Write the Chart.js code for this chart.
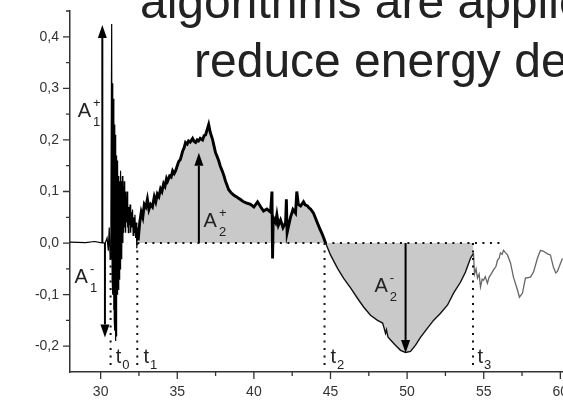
<!DOCTYPE html>
<html>
<head>
<meta charset="utf-8">
<script src="https://cdn.jsdelivr.net/npm/chart.js@4.4.0/dist/chart.umd.min.js"></script>
<style>
  html, body { margin: 0; padding: 0; background: #fff; overflow: hidden; }
  canvas { display: block; }
</style>
</head>
<body>
<canvas id="chart" width="600" height="402"></canvas>
<script>
// burst at the start (t0 .. t1)
const burstX = [28, 29, 29.6, 30.0, 30.3, 30.42, 30.5, 30.56, 30.62, 30.67, 30.72, 30.75, 30.78, 30.8, 30.83, 30.85, 30.87, 30.89, 30.91, 30.93, 30.95, 30.97, 30.99, 31.01, 31.03, 31.05, 31.07, 31.09, 31.12, 31.15, 31.18, 31.21, 31.24, 31.27, 31.3, 31.33, 31.36, 31.39, 31.42, 31.45, 31.48, 31.51, 31.54, 31.57, 31.6, 31.63, 31.66, 31.69, 31.72, 31.75, 31.78, 31.81, 31.85, 31.88, 31.92, 31.96, 32.0, 32.04, 32.08, 32.12, 32.16, 32.2, 32.24, 32.28, 32.32, 32.36, 32.4, 32.45];
const burstY = [0.002, 0.001, 0.003, 0.001, 0.0, 0.01, -0.015, 0.03, -0.03, 0.06, 0.425, -0.07, 0.31, -0.1, 0.28, -0.13, 0.25, -0.15, 0.23, -0.17, 0.21, -0.19, 0.19, -0.18, 0.17, -0.12, 0.16, -0.1, 0.15, -0.09, 0.13, -0.07, 0.12, -0.05, 0.14, -0.03, 0.12, -0.02, 0.13, 0.0, 0.11, 0.02, 0.12, 0.03, 0.1, 0.02, 0.09, 0.04, 0.1, 0.03, 0.08, 0.02, 0.07, 0.035, 0.075, 0.02, 0.06, 0.03, 0.065, 0.015, 0.05, 0.02, 0.055, 0.01, 0.04, -0.01, 0.03, 0.005];

// positive lobe A2+ (t1 .. t2)
const posX = [32.45, 32.55, 32.65, 32.75, 32.85, 32.95, 33.05, 33.15, 33.26, 33.38, 33.5, 33.6, 33.7, 33.8, 33.91, 34.0, 34.11, 34.2, 34.3, 34.37, 34.5, 34.6, 34.7, 34.8, 34.89, 35.0, 35.09, 35.2, 35.35, 35.45, 35.54, 35.65, 35.74, 35.85, 36.0, 36.1, 36.2, 36.3, 36.39, 36.5, 36.65, 36.75, 36.85, 36.95, 37.05, 37.15, 37.31, 37.4, 37.5, 37.6, 37.7, 37.8, 37.96, 38.05, 38.15, 38.25, 38.35, 38.5, 38.68, 38.85, 39.0, 39.15, 39.33, 39.5, 39.78, 40.0, 40.24, 40.45, 40.63, 40.85, 41.09, 41.18, 41.22, 41.26, 41.42, 41.5, 41.6, 41.74, 41.9, 42.07, 42.12, 42.17, 42.39, 42.55, 42.72, 42.8, 42.9, 43.05, 43.24, 43.35, 43.5, 43.6, 43.7, 43.89, 44.0, 44.16, 44.3, 44.48, 44.68];
const posY = [0.005, 0.04, 0.06, 0.05, 0.075, 0.07, 0.085, 0.065, 0.075, 0.07, 0.09, 0.08, 0.095, 0.09, 0.105, 0.1, 0.115, 0.11, 0.125, 0.12, 0.13, 0.128, 0.14, 0.135, 0.14, 0.15, 0.158, 0.162, 0.178, 0.185, 0.195, 0.192, 0.198, 0.196, 0.203, 0.197, 0.195, 0.2, 0.198, 0.203, 0.2, 0.208, 0.21, 0.22, 0.23, 0.215, 0.2, 0.188, 0.175, 0.168, 0.16, 0.15, 0.138, 0.13, 0.12, 0.112, 0.104, 0.098, 0.093, 0.09, 0.087, 0.084, 0.08, 0.078, 0.075, 0.07, 0.08, 0.07, 0.062, 0.066, 0.06, 0.1, -0.03, 0.05, 0.04, 0.055, 0.035, 0.045, 0.03, 0.04, 0.085, 0.02, 0.05, 0.065, 0.058, 0.1, 0.075, 0.072, 0.08, 0.074, 0.072, 0.068, 0.066, 0.058, 0.05, 0.038, 0.028, 0.016, 0.0];

// negative lobe A2- (t2 .. t3)
const negX = [44.68, 45.0, 45.46, 45.85, 46.31, 46.76, 47.16, 47.61, 48.07, 48.4, 48.5, 48.59, 48.65, 48.75, 48.92, 49.24, 49.57, 49.9, 50.22, 50.55, 50.87, 51.33, 51.72, 52.18, 52.64, 53.03, 53.48, 53.81, 54.14, 54.33];
const negY = [0.0, -0.023, -0.049, -0.068, -0.087, -0.107, -0.124, -0.14, -0.15, -0.155, -0.165, -0.175, -0.168, -0.182, -0.188, -0.198, -0.208, -0.212, -0.21, -0.198, -0.183, -0.165, -0.15, -0.136, -0.12, -0.097, -0.076, -0.056, -0.029, -0.02];

// tail after t3
const tailX = [54.33, 54.4, 54.5, 54.59, 54.7, 54.79, 54.9, 54.98, 55.1, 55.24, 55.35, 55.44, 55.64, 55.8, 55.9, 56.0, 56.09, 56.2, 56.29, 56.4, 56.55, 56.75, 56.94, 57.2, 57.33, 57.53, 57.72, 58.05, 58.25, 58.51, 58.7, 58.9, 59.16, 59.35, 59.55, 59.7, 59.81, 60.01, 60.14];
const tailY = [-0.02, -0.06, -0.05, -0.068, -0.06, -0.085, -0.07, -0.072, -0.065, -0.078, -0.066, -0.062, -0.052, -0.045, -0.033, -0.03, -0.019, -0.022, -0.014, -0.018, -0.023, -0.039, -0.066, -0.091, -0.105, -0.097, -0.068, -0.066, -0.056, -0.029, -0.014, -0.016, -0.021, -0.023, -0.047, -0.058, -0.055, -0.039, -0.03];

// markers t0..t3, zero reference, arrows
const markerX = [30.65, 32.39, 44.61, 54.3];
const markerBottom = -0.245;
const zeroLineX = [32.4, 56.2];
const arrowX = [30.11, 30.28, 36.41, 49.9];
const arrowTip = [0.423, -0.183, 0.175, -0.213];

const xTicks = [30, 35, 40, 45, 50, 55, 60];
const xMinor = [32.5, 37.5, 42.5, 47.5, 52.5, 57.5];
const yTicks = [-0.2, -0.1, 0.0, 0.1, 0.2, 0.3, 0.4];
const yMinor = [-0.15, -0.05, 0.05, 0.15, 0.25, 0.35, 0.45];

const FONT = '"Liberation Sans", Arial, sans-serif';
const pts = (xs, ys) => xs.map((x, i) => ({ x: x, y: ys[i] }));

const labels = [
  { x: 28.5, y: 0.245, main: 'A', sub: '1', sup: '+' },
  { x: 28.3, y: -0.078, main: 'A', sub: '1', sup: '-' },
  { x: 36.72, y: 0.031, main: 'A', sub: '2', sup: '+' },
  { x: 47.87, y: -0.095, main: 'A', sub: '2', sup: '-' },
  { x: 30.98, y: -0.233, main: 't', sub: '0' },
  { x: 32.8, y: -0.233, main: 't', sub: '1' },
  { x: 45.0, y: -0.233, main: 't', sub: '2' },
  { x: 54.59, y: -0.233, main: 't', sub: '3' }
];

const overlay = {
  id: 'overlay',
  afterDatasetsDraw(chart) {
    const { ctx, chartArea, scales: { x, y } } = chart;
    ctx.save();
    // arrows
    ctx.strokeStyle = '#000';
    ctx.fillStyle = '#000';
    ctx.lineWidth = 2;
    arrowX.forEach((v, i) => {
      const px = x.getPixelForValue(v);
      const p0 = y.getPixelForValue(0);
      const p1 = y.getPixelForValue(arrowTip[i]);
      const dir = Math.sign(p1 - p0);
      const head = 13, half = 4.5;
      ctx.beginPath();
      ctx.moveTo(px, p0);
      ctx.lineTo(px, p1 - dir * head);
      ctx.stroke();
      ctx.beginPath();
      ctx.moveTo(px, p1);
      ctx.lineTo(px - half, p1 - dir * head);
      ctx.lineTo(px + half, p1 - dir * head);
      ctx.closePath();
      ctx.fill();
    });
    // labels
    ctx.fillStyle = '#222';
    ctx.textBaseline = 'alphabetic';
    ctx.textAlign = 'left';
    labels.forEach(l => {
      const px = x.getPixelForValue(l.x);
      const py = y.getPixelForValue(l.y);
      ctx.font = '20px ' + FONT;
      ctx.fillText(l.main, px, py);
      const w = ctx.measureText(l.main).width;
      ctx.font = '13px ' + FONT;
      if (l.main === 'A') {
        ctx.fillText(l.sub, px + w + 2, py + 9);
        ctx.fillText(l.sup, px + w + 2, py - 10);
      } else {
        ctx.fillText(l.sub, px + w + 1, py + 6);
      }
    });
    // axis ticks
    ctx.strokeStyle = '#333';
    ctx.lineWidth = 1.3;
    ctx.beginPath();
    yTicks.forEach(v => { const p = y.getPixelForValue(v); ctx.moveTo(chartArea.left - 7, p); ctx.lineTo(chartArea.left, p); });
    yMinor.forEach(v => { const p = y.getPixelForValue(v); ctx.moveTo(chartArea.left - 4, p); ctx.lineTo(chartArea.left, p); });
    xTicks.forEach(v => { const p = x.getPixelForValue(v); ctx.moveTo(p, chartArea.bottom); ctx.lineTo(p, chartArea.bottom + 7); });
    xMinor.forEach(v => { const p = x.getPixelForValue(v); ctx.moveTo(p, chartArea.bottom); ctx.lineTo(p, chartArea.bottom + 4); });
    ctx.stroke();
    ctx.restore();
  },
  afterDraw(chart) {
    const ctx = chart.ctx;
    ctx.save();
    ctx.fillStyle = '#222';
    ctx.font = '48px ' + FONT;
    ctx.textBaseline = 'alphabetic';
    ctx.fillText('algorithms are applie', 140, 18);
    ctx.fillText('reduce energy de', 194, 77);
    ctx.restore();
  }
};

const dotted = { borderColor: '#111', borderWidth: 2, borderDash: [2, 5.5], fill: false };

const datasets = [
  Object.assign({ data: pts(zeroLineX, [0, 0]) }, dotted)
];
markerX.forEach(t => datasets.push(Object.assign({ data: pts([t, t], [0, markerBottom]) }, dotted)));
datasets.push(
  { data: pts(posX, posY), borderColor: '#000', borderWidth: 2.9, fill: 'origin', backgroundColor: '#c9c9c9' },
  { data: pts(negX, negY), borderColor: '#111', borderWidth: 1.4, fill: 'origin', backgroundColor: '#c9c9c9' },
  { data: pts(burstX, burstY), borderColor: '#000', borderWidth: 1.2, fill: false },
  { data: pts(tailX, tailY), borderColor: '#666', borderWidth: 1.3, fill: false }
);

new Chart(document.getElementById('chart'), {
  type: 'line',
  data: { datasets: datasets },
  options: {
    responsive: false,
    animation: false,
    devicePixelRatio: 1,
    layout: { padding: { top: 11, right: 9, left: 0, bottom: 0 } },
    elements: { point: { radius: 0 }, line: { tension: 0 } },
    plugins: { legend: { display: false }, tooltip: { enabled: false } },
    scales: {
      x: {
        type: 'linear', min: 28, max: 62,
        grid: { display: false, drawTicks: false },
        border: { display: true, color: '#333', width: 1.5 },
        ticks: { padding: 12, color: '#333', font: { family: FONT, size: 14 } },
        afterBuildTicks: s => { s.ticks = xTicks.map(v => ({ value: v })); },
        afterFit: s => { s.height = 30; s.paddingLeft = 0; s.paddingRight = 0; }
      },
      y: {
        type: 'linear', min: -0.25, max: 0.45,
        grid: { display: false, drawTicks: false },
        border: { display: true, color: '#333', width: 1.5 },
        ticks: { padding: 11, color: '#333', font: { family: FONT, size: 14 },
          callback: v => v.toFixed(1).replace('.', ',') },
        afterBuildTicks: s => { s.ticks = yTicks.map(v => ({ value: v })); },
        afterFit: s => { s.width = 70; s.paddingTop = 0; s.paddingBottom = 0; }
      }
    }
  },
  plugins: [overlay]
});
</script>
</body>
</html>
